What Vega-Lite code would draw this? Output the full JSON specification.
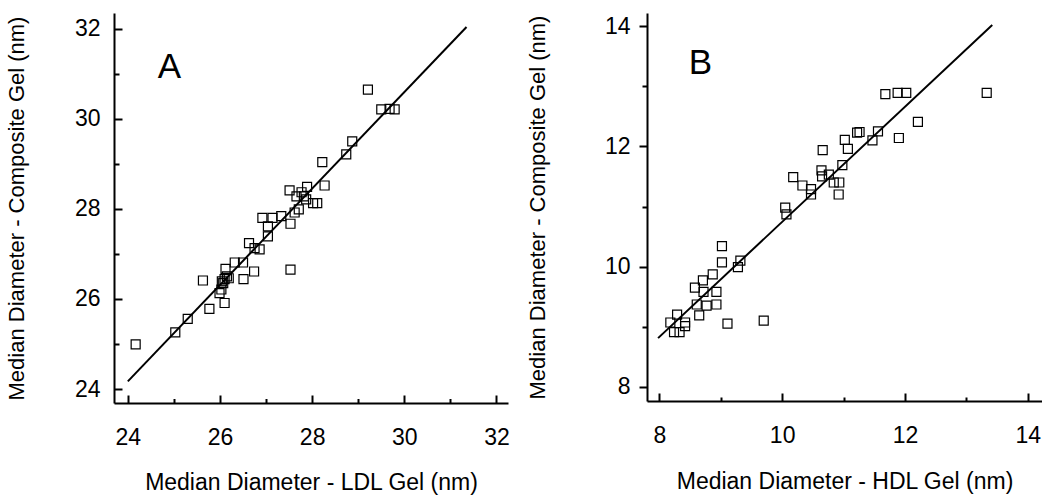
{
  "$schema": "https://vega.github.io/schema/vega-lite/v6.json",
  "padding": {"left": 5, "top": 13, "right": 0, "bottom": 0},
  "background": "white",
  "config": {
    "view": {"stroke": null},
    "axis": {
      "labelFont": "Liberation Sans", "titleFont": "Liberation Sans",
      "labelFontSize": 23, "titleFontSize": 23, "titleFontWeight": "normal",
      "domainColor": "black", "domainWidth": 2, "ticks": true, "tickColor": "black", "tickWidth": 2, "tickOpacity": 1,
      "labelColor": "black", "titleColor": "black", "grid": false,
      "labelOverlap": false, "labelFlush": false
    }
  },
  "spacing": 16,
  "hconcat": [
    {
      "width": 394, "height": 390,
      "layer": [
        {
          "data": {"values": [
            {"x":24.17,"y":24.99},{"x":25.03,"y":25.26},{"x":25.30,"y":25.56},{"x":25.63,"y":26.41},{"x":25.77,"y":25.78},
            {"x":25.99,"y":26.13},{"x":26.04,"y":26.39},{"x":26.10,"y":26.44},{"x":26.12,"y":26.67},{"x":26.10,"y":25.91},
            {"x":26.19,"y":26.46},{"x":26.03,"y":26.21},{"x":26.07,"y":26.35},{"x":26.15,"y":26.5},{"x":26.32,"y":26.81},
            {"x":26.50,"y":26.81},{"x":26.51,"y":26.44},{"x":26.74,"y":26.61},{"x":26.63,"y":27.24},{"x":26.86,"y":27.10},
            {"x":26.75,"y":27.13},{"x":26.92,"y":27.80},{"x":27.04,"y":27.61},{"x":27.04,"y":27.39},{"x":27.14,"y":27.80},
            {"x":27.33,"y":27.84},{"x":27.53,"y":27.67},{"x":27.53,"y":26.65},{"x":27.51,"y":28.41},{"x":27.66,"y":28.28},
            {"x":27.71,"y":27.99},{"x":27.77,"y":28.37},{"x":27.89,"y":28.49},{"x":27.87,"y":28.21},{"x":28.02,"y":28.13},
            {"x":28.11,"y":28.13},{"x":28.22,"y":29.04},{"x":28.27,"y":28.52},{"x":28.74,"y":29.21},{"x":28.87,"y":29.50},
            {"x":29.21,"y":30.65},{"x":29.50,"y":30.21},{"x":29.68,"y":30.22},{"x":29.79,"y":30.21},{"x":27.82,"y":28.28},
            {"x":27.62,"y":27.92}
          ]},
          "mark": {"type": "point", "shape": "square", "filled": false, "size": 81, "color": "black", "strokeWidth": 1.2, "opacity": 1},
          "encoding": {
            "x": {"field": "x", "type": "quantitative",
              "scale": {"domain": [23.7, 32.25], "nice": false, "zero": false},
              "axis": {"title": "Median Diameter - LDL Gel (nm)",
                "values": [24,24.5,25,25.5,26,26.5,27,27.5,28,28.5,29,29.5,30,30.5,31,31.5,32],
                "labelExpr": "datum.value % 2 === 0 ? format(datum.value, 'd') : ''",
                "tickSize": {"condition": {"test": "datum.value % 2 === 0", "value": -8}, "value": -4.5},
                "labelPadding": 31, "titlePadding": 19}},
            "y": {"field": "y", "type": "quantitative",
              "scale": {"domain": [23.69, 32.35], "nice": false, "zero": false},
              "axis": {"title": "Median Diameter - Composite Gel (nm)", "titleFontSize": 22,
                "values": [24,24.5,25,25.5,26,26.5,27,27.5,28,28.5,29,29.5,30,30.5,31,31.5,32],
                "labelExpr": "datum.value % 2 === 0 ? format(datum.value, 'd') : ''",
                "tickSize": {"condition": {"test": "datum.value % 2 === 0", "value": -8}, "value": -5},
                "labelPadding": 22, "titlePadding": 46}}
          }
        },
        {
          "data": {"values": [{"x": 24.0, "y": 24.17}, {"x": 31.35, "y": 32.04}]},
          "mark": {"type": "line", "color": "black", "strokeWidth": 2},
          "encoding": {"x": {"field": "x", "type": "quantitative"}, "y": {"field": "y", "type": "quantitative"}}
        },
        {
          "data": {"values": [{"x": 24.9, "y": 30.91, "label": "A"}]},
          "mark": {"type": "text", "fontSize": 35, "font": "Liberation Sans", "baseline": "alphabetic", "align": "center", "color": "black"},
          "encoding": {"x": {"field": "x", "type": "quantitative"}, "y": {"field": "y", "type": "quantitative"}, "text": {"field": "label"}}
        }
      ]
    },
    {
      "width": 395, "height": 388,
      "layer": [
        {
          "data": {"values": [
            {"x":8.18,"y":9.07},{"x":8.29,"y":9.20},{"x":8.24,"y":8.91},{"x":8.33,"y":8.91},{"x":8.42,"y":9.07},
            {"x":8.42,"y":9.01},{"x":8.58,"y":9.65},{"x":8.61,"y":9.37},{"x":8.65,"y":9.19},{"x":8.71,"y":9.77},
            {"x":8.72,"y":9.58},{"x":8.77,"y":9.35},{"x":8.87,"y":9.87},{"x":8.93,"y":9.58},{"x":8.93,"y":9.37},
            {"x":9.02,"y":10.07},{"x":9.02,"y":10.34},{"x":9.11,"y":9.05},{"x":9.28,"y":9.99},{"x":9.32,"y":10.10},
            {"x":9.70,"y":9.10},{"x":10.05,"y":10.98},{"x":10.07,"y":10.87},{"x":10.18,"y":11.49},{"x":10.33,"y":11.35},
            {"x":10.47,"y":11.29},{"x":10.47,"y":11.20},{"x":10.66,"y":11.94},{"x":10.64,"y":11.60},{"x":10.65,"y":11.50},
            {"x":10.76,"y":11.53},{"x":10.84,"y":11.40},{"x":10.93,"y":11.40},{"x":10.92,"y":11.20},{"x":10.98,"y":11.69},
            {"x":11.02,"y":12.11},{"x":11.07,"y":11.96},{"x":11.22,"y":12.23},{"x":11.26,"y":12.24},{"x":11.47,"y":12.10},
            {"x":11.56,"y":12.25},{"x":11.68,"y":12.87},{"x":11.88,"y":12.89},{"x":12.02,"y":12.89},{"x":11.90,"y":12.14},
            {"x":12.21,"y":12.41},{"x":13.33,"y":12.89}
          ]},
          "mark": {"type": "point", "shape": "square", "filled": false, "size": 81, "color": "black", "strokeWidth": 1.2, "opacity": 1},
          "encoding": {
            "x": {"field": "x", "type": "quantitative",
              "scale": {"domain": [7.80, 14.23], "nice": false, "zero": false},
              "axis": {"title": "Median Diameter - HDL Gel (nm)",
                "values": [8,8.5,9,9.5,10,10.5,11,11.5,12,12.5,13,13.5,14],
                "labelExpr": "datum.value % 2 === 0 ? format(datum.value, 'd') : ''",
                "tickSize": {"condition": {"test": "datum.value % 2 === 0", "value": -8}, "value": -4},
                "labelPadding": 31, "titlePadding": 19}},
            "y": {"field": "y", "type": "quantitative",
              "scale": {"domain": [7.764, 14.22], "nice": false, "zero": false},
              "axis": {"title": "Median Diameter - Composite Gel (nm)", "titleFontSize": 22,
                "values": [8,8.5,9,9.5,10,10.5,11,11.5,12,12.5,13,13.5,14],
                "labelExpr": "datum.value % 2 === 0 ? format(datum.value, 'd') : ''",
                "tickSize": {"condition": {"test": "datum.value % 2 === 0", "value": 8}, "value": 5},
                "labelPadding": 9, "titlePadding": 55}}
          }
        },
        {
          "data": {"values": [{"x": 7.98, "y": 8.81}, {"x": 13.42, "y": 14.02}]},
          "mark": {"type": "line", "color": "black", "strokeWidth": 2},
          "encoding": {"x": {"field": "x", "type": "quantitative"}, "y": {"field": "y", "type": "quantitative"}}
        },
        {
          "data": {"values": [{"x": 8.67, "y": 13.2, "label": "B"}]},
          "mark": {"type": "text", "fontSize": 35, "font": "Liberation Sans", "baseline": "alphabetic", "align": "center", "color": "black"},
          "encoding": {"x": {"field": "x", "type": "quantitative"}, "y": {"field": "y", "type": "quantitative"}, "text": {"field": "label"}}
        }
      ]
    }
  ]
}
